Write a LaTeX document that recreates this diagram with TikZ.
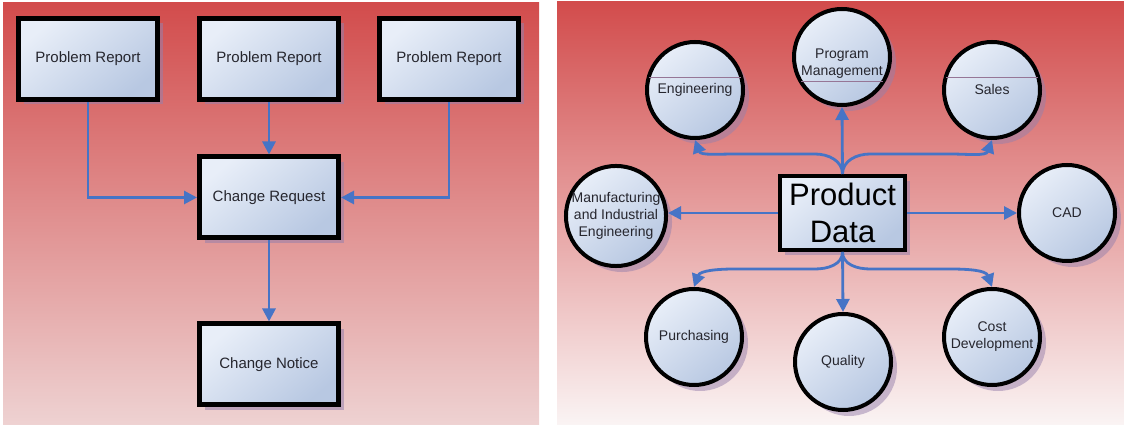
\documentclass[tikz,border=0pt]{standalone}
\usepackage{fontspec}
\setmainfont{Liberation Sans}
\usetikzlibrary{arrows.meta,shadows}

\definecolor{lineblue}{RGB}{70,116,198}
\definecolor{panelTop}{RGB}{210,76,76}
\definecolor{panelBotL}{RGB}{238,210,210}
\definecolor{panelBotR}{RGB}{250,244,244}
\definecolor{fillLight}{RGB}{232,238,248}
\definecolor{fillDark}{RGB}{184,200,226}
\definecolor{shadowc}{RGB}{150,128,172}
\definecolor{textc}{RGB}{38,38,46}
\definecolor{rulec}{RGB}{150,118,150}

\tikzset{
  x=1pt, y=1pt,
  bluefill/.style={top color=fillLight, bottom color=fillDark, shading angle=40},
  rbox/.style={rectangle, draw=black, line width=5pt, bluefill,
    minimum width=139pt, minimum height=81pt, inner sep=0pt,
    font=\fontsize{15}{17}\selectfont, text=textc,
    drop shadow={shadow xshift=5pt, shadow yshift=-5pt, fill=shadowc, opacity=.55}},
  dept/.style={circle, draw=black, line width=4pt, bluefill,
    minimum size=96pt, inner sep=0pt, align=center,
    font=\fontsize{14}{17}\selectfont, text=textc,
    drop shadow={shadow xshift=6pt, shadow yshift=-6pt, fill=shadowc, opacity=.5}},
  hub/.style={rectangle, draw=black, line width=4pt, bluefill,
    minimum width=125pt, minimum height=74pt, inner sep=0pt, align=center,
    font=\fontsize{31}{37}\selectfont, text=black,
    drop shadow={shadow xshift=5pt, shadow yshift=-5pt, fill=shadowc, opacity=.55}},
  conn/.style={draw=lineblue, line width=2.8pt,
    -{Triangle[length=13pt,width=13pt]}},
  textrule/.style={draw=rulec, line width=0.7pt},
}

\begin{document}
\begin{tikzpicture}
\useasboundingbox (0,0) rectangle (1124,425);

% panel backgrounds
\shade[top color=panelTop, bottom color=panelBotL] (3,0) rectangle (539,422);
\shade[top color=panelTop, bottom color=panelBotR] (557,0) rectangle (1124,423);

% ---- change process ----
\node[rbox] (pr1) at (88,366) {Problem Report};
\node[rbox] (pr2) at (269,366) {Problem Report};
\node[rbox] (pr3) at (449,366) {Problem Report};
\node[rbox] (cr) at (269,227.5) {Change Request};
\node[rbox] (cn) at (269,60.5) {Change Notice};

\draw[conn] (pr1.south) |- (cr.west);
\draw[conn] (pr2.south) -- (cr.north);
\draw[conn] (pr3.south) |- (cr.east);
\draw[conn] (cr.south) -- (cn.north);

% ---- product data hub ----
\node[hub] (pd) at (842.5,212) {Product\\Data};

\node[dept] (eng) at (695,335) {Engineering};
\node[dept] (pm) at (842,368) {\rule{0pt}{22pt}Program\\Management};
\node[dept] (sales) at (992,335) {Sales};
\node[dept] (mfg) at (616,209) {Manufacturing\\and Industrial\\Engineering};
\node[dept] (cad) at (1067,212) {CAD};
\node[dept] (pur) at (694,88) {Purchasing};
\node[dept] (qual) at (843,63) {Quality};
\node[dept] (cost) at (992,88) {Cost\\Development};

% text-block rules inside some circles
\draw[textrule] ([shift={(-46,12.5)}]eng.center) -- ++(92,0);
\draw[textrule] ([shift={(-46,12.5)}]sales.center) -- ++(92,0);
\draw[textrule] ([shift={(-41,-24)}]pm.center) -- ++(82,0);

\draw[conn] (pd.north) -- (pm.south);
\draw[conn] (pd.north) to[out=90,in=0] (815,271) -- (735,271)
  to[out=180,in=-70] (eng.south);
\draw[conn] (pd.north) to[out=90,in=180] (870,271) -- (950,271)
  to[out=0,in=-110] (sales.south);
\draw[conn] (pd.west) -- (pd.west -| mfg.east);
\draw[conn] (pd.east) -- (pd.east -| cad.west);
\draw[conn] (pd.south) -- (qual.north);
\draw[conn] (pd.south) to[out=-90,in=0] (815,156) -- (735,156)
  to[out=180,in=70] (pur.north);
\draw[conn] (pd.south) to[out=-90,in=180] (870,156) -- (950,156)
  to[out=0,in=110] (cost.north);
\end{tikzpicture}
\end{document}
